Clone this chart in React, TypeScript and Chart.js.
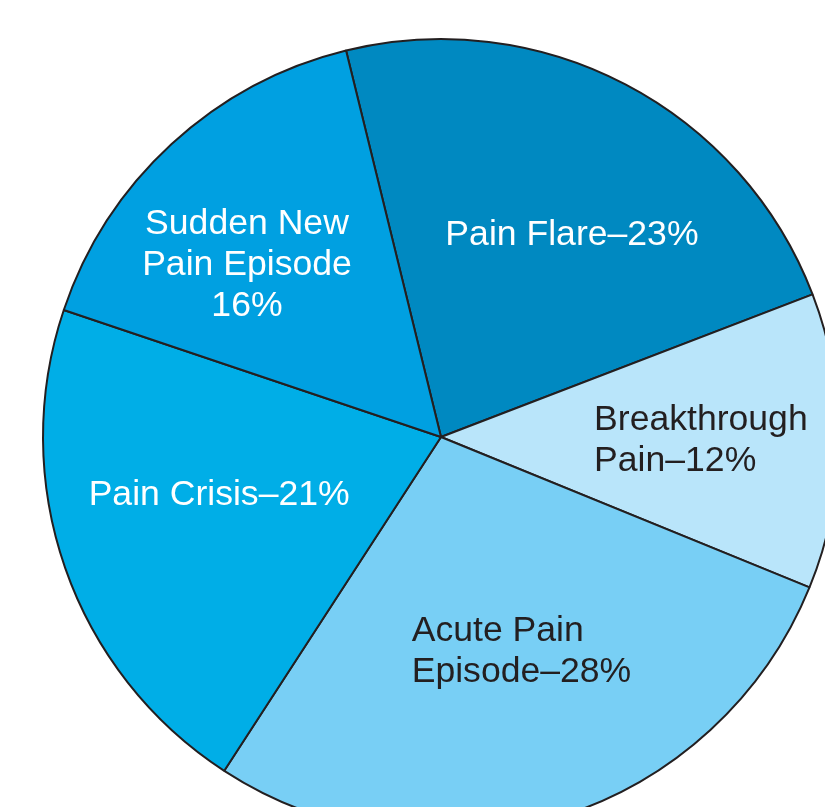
import React, { useEffect, useRef } from "react";
import { Chart, registerables } from "chart.js";

Chart.register(...registerables);

const categories: string[][] = [
  ["Pain Flare–23%"],
  ["Breakthrough", "Pain–12%"],
  ["Acute Pain", "Episode–28%"],
  ["Pain Crisis–21%"],
  ["Sudden New", "Pain Episode", "16%"],
];
const shares: number[] = [23, 12, 28, 21, 16];
const sliceColors: string[] = ["#0089C1", "#B9E5FA", "#78CFF5", "#00AEE7", "#00A0E1"];
const textColors: string[] = ["#FFFFFF", "#231F20", "#231F20", "#FFFFFF", "#FFFFFF"];

// label placement relative to each arc: [angle shift (deg), radius fraction, align]
const labelPlacement: [number, number, "left" | "center"][] = [
  [5.1, 0.609, "center"],
  [-0.2, 0.653, "left"],
  [-3.3, 0.572, "left"],
  [5.0, 0.575, "center"],
  [-5.5, 0.655, "center"],
];

const labelPlugin = {
  id: "sliceLabels",
  afterDatasetsDraw(chart: any) {
    const ctx = chart.ctx;
    const meta = chart.getDatasetMeta(0);
    const fontSize = 35.6;
    const lineH = 41;
    const yNudge = 2;
    ctx.save();
    ctx.font = `${fontSize}px "Liberation Sans", Arial, sans-serif`;
    ctx.textBaseline = "middle";
    meta.data.forEach((arc: any, i: number) => {
      const p = arc.getProps(["x", "y", "startAngle", "endAngle", "outerRadius"], true);
      const [shift, frac, align] = labelPlacement[i];
      const mid = (p.startAngle + p.endAngle) / 2 + (shift * Math.PI) / 180;
      const cx = p.x + Math.cos(mid) * p.outerRadius * frac;
      const cy = p.y + Math.sin(mid) * p.outerRadius * frac + yNudge;
      const lines = categories[i];
      const widths = lines.map((l) => ctx.measureText(l).width);
      const blockW = Math.max(...widths);
      ctx.fillStyle = textColors[i];
      lines.forEach((line, j) => {
        const y = cy + (j - (lines.length - 1) / 2) * lineH;
        if (align === "left") {
          ctx.textAlign = "left";
          ctx.fillText(line, cx - blockW / 2, y);
        } else {
          ctx.textAlign = "center";
          ctx.fillText(line, cx, y);
        }
      });
    });
    ctx.restore();
  },
};

export default function App() {
  const ref = useRef<HTMLCanvasElement | null>(null);
  useEffect(() => {
    if (!ref.current) return;
    const chart = new Chart(ref.current, {
      type: "pie",
      data: {
        labels: categories.map((c) => c.join(" ")),
        datasets: [
          {
            data: shares,
            backgroundColor: sliceColors,
            borderColor: "#231F20",
            borderWidth: 2,
            borderAlign: "center",
          },
        ],
      },
      options: {
        responsive: false,
        animation: false,
        rotation: -13.8,
        radius: 398,
        layout: { padding: 0 },
        plugins: {
          legend: { display: false },
          tooltip: { enabled: false },
          title: { display: false },
        },
        events: [],
      },
      plugins: [labelPlugin],
    });
    return () => chart.destroy();
  }, []);
  return (
    <div
      style={{
        position: "fixed",
        left: 0,
        top: 0,
        width: 825,
        height: 807,
        overflow: "hidden",
        background: "#FFFFFF",
      }}
    >
      <canvas
        ref={ref}
        width={830}
        height={830}
        style={{ position: "absolute", left: 26, top: 22, width: 830, height: 830 }}
      />
    </div>
  );
}
